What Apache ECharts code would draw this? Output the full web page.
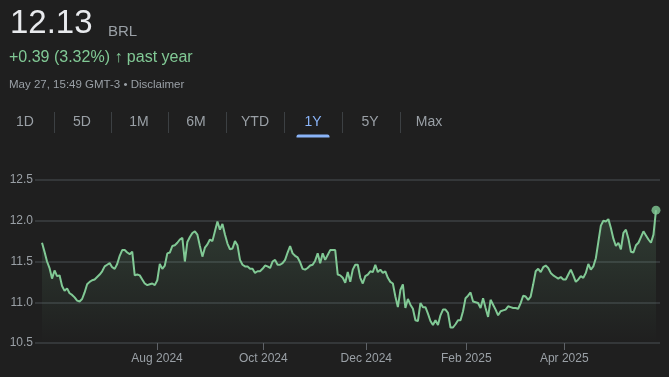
<!DOCTYPE html>
<html>
<head>
<meta charset="utf-8">
<title>BRL 1Y</title>
<script src="https://cdn.jsdelivr.net/npm/echarts@6/dist/echarts.min.js"></script>
<style>
    html, body { margin: 0; padding: 0; background: #1f1f1f; }
    #chart { width: 669px; height: 377px; }
</style>
</head>
<body>
<div id="chart"></div>
<script>
    // daily closes over the past year
    var prices = [
        11.73, 11.62, 11.50, 11.42, 11.29, 11.39, 11.32, 11.33, 11.20, 11.14,
        11.17, 11.11, 11.09, 11.06, 11.02, 11.01, 11.04, 11.12, 11.22, 11.25,
        11.27, 11.28, 11.31, 11.34, 11.38, 11.44, 11.46, 11.48, 11.43, 11.41,
        11.47, 11.57, 11.64, 11.64, 11.61, 11.59, 11.62, 11.33, 11.34, 11.33,
        11.28, 11.23, 11.21, 11.22, 11.23, 11.21, 11.27, 11.47, 11.41, 11.45,
        11.60, 11.61, 11.69, 11.70, 11.73, 11.77, 11.79, 11.50, 11.74, 11.80,
        11.85, 11.87, 11.83, 11.69, 11.56, 11.67, 11.71, 11.77, 11.75, 11.87,
        11.99, 11.89, 11.96, 11.83, 11.72, 11.65, 11.66, 11.75, 11.70, 11.52,
        11.46, 11.44, 11.44, 11.41, 11.41, 11.36, 11.38, 11.38, 11.41, 11.45,
        11.44, 11.42, 11.50, 11.52, 11.46, 11.46, 11.48, 11.52, 11.61, 11.69,
        11.60, 11.57, 11.55, 11.49, 11.41, 11.40, 11.42, 11.45, 11.46, 11.51,
        11.60, 11.48, 11.60, 11.52, 11.58, 11.64, 11.64, 11.64, 11.34, 11.33,
        11.30, 11.24, 11.37, 11.25, 11.40, 11.46, 11.46, 11.30, 11.23, 11.32,
        11.34, 11.38, 11.37, 11.46, 11.37, 11.40, 11.36, 11.38, 11.30, 11.25,
        11.23, 11.07, 10.94, 11.15, 11.22, 10.93, 11.04, 10.97, 10.92, 10.78,
        10.77, 10.99, 10.94, 10.94, 10.86, 10.77, 10.72, 10.78, 10.72, 10.84,
        10.91, 10.91, 10.87, 10.69, 10.69, 10.73, 10.78, 10.78, 10.89, 11.05,
        11.08, 11.12, 11.01, 11.00, 10.99, 10.93, 11.05, 10.93, 10.82, 11.03,
        10.97, 10.91, 10.84, 10.89, 10.90, 10.91, 10.95, 10.94, 10.93, 10.93,
        10.92, 10.99, 11.08, 11.07, 11.03, 11.07, 11.22, 11.38, 11.41, 11.37,
        11.43, 11.45, 11.42, 11.36, 11.33, 11.31, 11.29, 11.31, 11.28, 11.28,
        11.34, 11.40, 11.33, 11.25, 11.28, 11.32, 11.30, 11.36, 11.47, 11.40,
        11.44, 11.54, 11.74, 11.94, 12.00, 11.99, 12.02, 11.91, 11.78, 11.69,
        11.73, 11.65, 11.85, 11.89, 11.78, 11.62, 11.61, 11.70, 11.73, 11.80,
        11.87, 11.82, 11.77, 11.73, 11.83, 12.13
    ];
    var xTickAt = [45.9, 88.3, 129.4, 169.3, 208.4];
    var xTickLabels = ['Aug 2024', 'Oct 2024', 'Dec 2024', 'Feb 2025', 'Apr 2025'];
    var yTicks = [10.5, 11.0, 11.5, 12.0, 12.5];
    var ranges = ['1D', '5D', '1M', '6M', 'YTD', '1Y', '5Y', 'Max'];
    var rangeX = [25, 82, 139, 196, 255, 313, 370, 429];
    var activeRange = '1Y';

    var font = '"Liberation Sans", Arial, sans-serif';
    var green = '#81c995';
    var grey = '#9aa0a6';
    var blue = '#8ab4f8';

    var lastIdx = prices.length - 1;
    var seriesData = prices.map(function (v, i) { return [i, v]; });

    // header + range tabs
    var graphics = [
        {type: 'text', x: 10, y: 24, style: {text: '12.13', font: '33px ' + font, fill: '#e8eaed', textVerticalAlign: 'middle'}},
        {type: 'text', x: 108, y: 31.5, style: {text: 'BRL', font: '15px ' + font, fill: grey, textVerticalAlign: 'middle'}},
        {type: 'text', x: 9, y: 57.5, style: {text: '+0.39 (3.32%) \u2191 past year', font: '16px ' + font, fill: green, textVerticalAlign: 'middle'}},
        {type: 'text', x: 9, y: 84.5, style: {text: 'May 27, 15:49 GMT-3 \u2022 Disclaimer', font: '11.5px ' + font, fill: grey, textVerticalAlign: 'middle'}}
    ];
    ranges.forEach(function (r, i) {
        graphics.push({
            type: 'text', x: rangeX[i], y: 122.5,
            style: {text: r, font: '14px ' + font, fill: r === activeRange ? blue : grey, textAlign: 'center', textVerticalAlign: 'middle'}
        });
        if (i > 0) {
            var sx = Math.round((rangeX[i - 1] + rangeX[i]) / 2) + 0.5;
            graphics.push({type: 'line', shape: {x1: sx, y1: 112, x2: sx, y2: 133}, style: {stroke: '#3c4043', lineWidth: 1}});
        }
        if (r === activeRange) {
            graphics.push({type: 'rect', shape: {x: rangeX[i] - 16.5, y: 134.5, width: 33, height: 3, r: [2, 2, 0, 0]}, style: {fill: blue}});
        }
    });

    var option = {
        backgroundColor: '#1f1f1f',
        animation: false,
        textStyle: {fontFamily: font},
        graphic: graphics,
        grid: {left: 35, right: 9, top: 180, bottom: 34},
        xAxis: {
            type: 'value',
            min: -2.8,
            max: 246.6,
            axisLine: {show: false},
            splitLine: {show: false},
            axisTick: {show: true, length: 7, customValues: xTickAt, lineStyle: {color: '#5f6368'}},
            axisLabel: {
                customValues: xTickAt, margin: 10, fontSize: 12, color: grey,
                formatter: function (v) {
                    var k = xTickAt.indexOf(v);
                    return k >= 0 ? xTickLabels[k] : '';
                }
            }
        },
        yAxis: {
            type: 'value',
            min: yTicks[0],
            max: yTicks[yTicks.length - 1],
            interval: 0.5,
            axisLine: {show: false},
            axisTick: {show: false},
            axisLabel: {margin: 2, fontSize: 12, color: grey, formatter: function (v) { return v.toFixed(1); }},
            splitLine: {lineStyle: {color: '#3c4043', width: 1.5}}
        },
        series: [
            {
                type: 'line',
                data: seriesData,
                showSymbol: false,
                lineStyle: {color: green, width: 2},
                areaStyle: {
                    origin: 'start',
                    color: {
                        type: 'linear', x: 0, y: 0, x2: 0, y2: 1,
                        colorStops: [{offset: 0, color: 'rgba(129,201,149,0.25)'}, {offset: 1, color: 'rgba(129,201,149,0)'}]
                    }
                }
            },
            {
                type: 'scatter',
                data: [seriesData[lastIdx]],
                symbolSize: 9,
                itemStyle: {color: green}
            }
        ]
    };

    var myChart = echarts.init(document.getElementById('chart'));
    myChart.setOption(option);
</script>
</body>
</html>
